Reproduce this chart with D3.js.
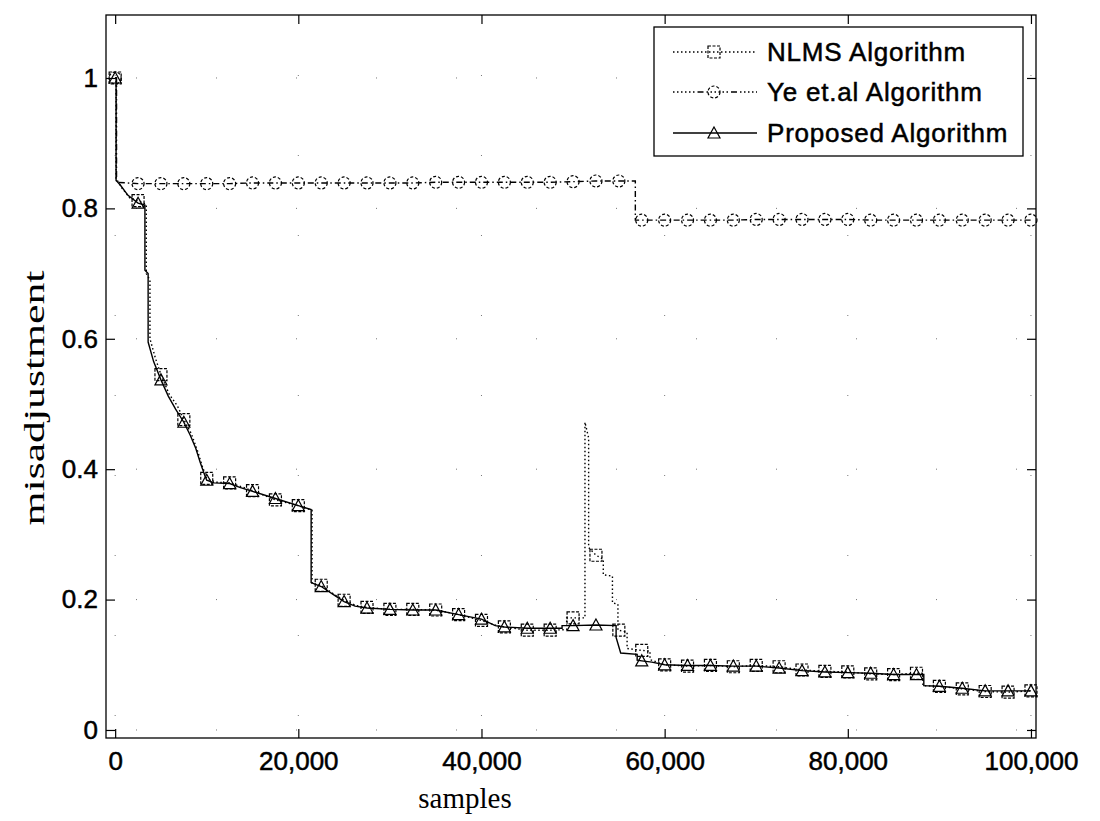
<!DOCTYPE html>
<html>
<head>
<meta charset="utf-8">
<script src="https://cdn.jsdelivr.net/npm/d3@7/dist/d3.min.js"></script>
<style>
  html, body { margin: 0; padding: 0; background: #fff; }
  svg { display: block; }
</style>
</head>
<body>
<svg id="chart" width="1100" height="821"></svg>
<script>
// Misadjustment curves of three adaptive filtering algorithms versus samples.

const xTicks = [0, 20000, 40000, 60000, 80000, 100000];
const yTicks = [0, 0.2, 0.4, 0.6, 0.8, 1];

const seriesNames = ["NLMS Algorithm", "Ye et.al Algorithm", "Proposed Algorithm"];

// NLMS algorithm
const nlmsSamples = [0, 100, 100, 700, 1600, 2500, 3400, 3400, 3800, 3800, 4400, 5000, 5900, 6800, 7500, 8300, 9000, 9500, 10000, 11000,
  12500, 13800, 15000, 17500, 20000, 21500, 21500, 22500, 24000, 25000, 26300, 27500, 30000, 32500, 35000, 37500, 40000, 41700, 42500, 45000,
  47500, 49300, 49300, 50000, 51300, 51300, 51700, 51700, 52500, 53300, 53300, 54300, 54300, 54900, 54900, 55000, 55900, 55900, 57500, 58400,
  58400, 60000, 62500, 65000, 67500, 70000, 72500, 75000, 77500, 80000, 82500, 85000, 87500, 88200, 88200, 90000, 92500, 95000, 97500, 100000];
const nlmsValues = [1.000, 1.000, 0.846, 0.832, 0.816, 0.812, 0.806, 0.700, 0.690, 0.600, 0.570, 0.545, 0.515, 0.497, 0.476, 0.455, 0.428, 0.405, 0.386, 0.380,
  0.379, 0.373, 0.367, 0.353, 0.344, 0.337, 0.225, 0.222, 0.207, 0.199, 0.191, 0.188, 0.185, 0.185, 0.184, 0.177, 0.168, 0.160, 0.158, 0.153,
  0.153, 0.154, 0.172, 0.172, 0.172, 0.472, 0.448, 0.280, 0.268, 0.262, 0.238, 0.236, 0.195, 0.193, 0.153, 0.153, 0.150, 0.125, 0.122, 0.121,
  0.108, 0.100, 0.098, 0.099, 0.097, 0.099, 0.097, 0.092, 0.090, 0.089, 0.086, 0.085, 0.087, 0.087, 0.068, 0.067, 0.063, 0.059, 0.058, 0.060];

// Ye et al. algorithm
const yeSamples = [0, 150, 150, 2500, 5000, 7500, 10000, 12500, 15000, 17500, 20000, 22500, 25000, 27500, 30000, 32500, 35000, 37500, 40000,
  42500, 45000, 47500, 50000, 52500, 55000, 56800, 56800, 57500, 60000, 62500, 65000, 67500, 70000, 72500, 75000, 77500, 80000, 82500,
  85000, 87500, 90000, 92500, 95000, 97500, 100000];
const yeValues = [1.000, 1.000, 0.840, 0.838, 0.838, 0.838, 0.838, 0.838, 0.839, 0.839, 0.839, 0.839, 0.839, 0.839, 0.839, 0.839, 0.840, 0.840, 0.840,
  0.840, 0.840, 0.840, 0.841, 0.842, 0.842, 0.842, 0.782, 0.782, 0.782, 0.782, 0.782, 0.782, 0.783, 0.783, 0.783, 0.783, 0.783, 0.782,
  0.782, 0.782, 0.782, 0.782, 0.782, 0.782, 0.782];

// Proposed algorithm
const propSamples = [0, 100, 100, 600, 1400, 2500, 3250, 3250, 3600, 3600, 4200, 5000, 5800, 6600, 7500, 8200, 8800, 9300, 9800, 10000,
  10800, 12500, 13600, 15000, 17500, 20000, 21400, 21400, 22500, 24000, 25000, 26200, 27500, 30000, 32500, 35000, 37500, 40000, 41500, 42500,
  45000, 47500, 48800, 48800, 50000, 52500, 54700, 54700, 55200, 57000, 57000, 57500, 58600, 60000, 62500, 65000, 67500, 70000, 72500, 75000,
  77500, 80000, 82500, 85000, 87500, 88300, 88300, 90000, 92500, 95000, 97500, 100000];
const propValues = [1.000, 1.000, 0.843, 0.835, 0.820, 0.808, 0.805, 0.705, 0.700, 0.595, 0.565, 0.537, 0.512, 0.492, 0.472, 0.452, 0.432, 0.410, 0.390, 0.383,
  0.379, 0.378, 0.372, 0.366, 0.355, 0.344, 0.338, 0.226, 0.220, 0.206, 0.197, 0.190, 0.187, 0.185, 0.184, 0.184, 0.177, 0.170, 0.160, 0.158,
  0.156, 0.156, 0.156, 0.160, 0.160, 0.161, 0.160, 0.142, 0.118, 0.116, 0.107, 0.106, 0.104, 0.100, 0.099, 0.099, 0.098, 0.098, 0.095, 0.091,
  0.089, 0.088, 0.087, 0.085, 0.085, 0.085, 0.068, 0.067, 0.064, 0.060, 0.060, 0.060];

const markerStep = 2500;

const svg = d3.select("#chart");
const W = 1100, H = 821;
const box = { left: 106, right: 1036, top: 15, bottom: 738 };

svg.append("rect").attr("width", W).attr("height", H).attr("fill", "#fff");

const x = d3.scaleLinear().domain([-1000, 100550]).range([box.left, box.right]);
const y = d3.scaleLinear().domain([-0.0123, 1.0966]).range([box.bottom, box.top]);

const tickFont = "'Liberation Sans', Arial, sans-serif";
const titleFont = "'Liberation Serif', 'Times New Roman', serif";

// Sparse dotted grid
const grid = svg.append("g").attr("stroke", "#777").attr("stroke-width", 1)
  .attr("stroke-dasharray", "1,79").attr("fill", "none");
xTicks.forEach(t => grid.append("line")
  .attr("x1", x(t)).attr("x2", x(t)).attr("y1", box.top + 60).attr("y2", box.bottom));
yTicks.forEach(t => grid.append("line")
  .attr("x1", box.left + 30).attr("x2", box.right).attr("y1", y(t)).attr("y2", y(t)));

// Axes: ticks point inward, on all four sides
const tickLen = 9;
const axBottom = d3.axisBottom(x).tickValues(xTicks).tickSize(-tickLen).tickPadding(14).tickFormat(d3.format(","));
const axTop = d3.axisTop(x).tickValues(xTicks).tickSize(-tickLen).tickFormat("");
const axLeft = d3.axisLeft(y).tickValues(yTicks).tickSize(-tickLen).tickPadding(8).tickFormat(d => d3.format("")(d));
const axRight = d3.axisRight(y).tickValues(yTicks).tickSize(-tickLen).tickFormat("");

function styleAxis(g) {
  g.select(".domain").remove();
  g.selectAll(".tick line").attr("stroke", "#000").attr("stroke-width", 1.2);
  g.selectAll(".tick text").attr("fill", "#000").attr("stroke", "#000").attr("stroke-width", 0.5)
    .style("font-family", tickFont).style("font-size", "26px");
}
svg.append("g").attr("transform", `translate(0,${box.bottom})`).call(axBottom).call(styleAxis);
svg.append("g").attr("transform", `translate(0,${box.top})`).call(axTop).call(styleAxis);
svg.append("g").attr("transform", `translate(${box.left},0)`).call(axLeft).call(styleAxis);
svg.append("g").attr("transform", `translate(${box.right},0)`).call(axRight).call(styleAxis);

svg.append("rect")
  .attr("x", box.left).attr("y", box.top)
  .attr("width", box.right - box.left).attr("height", box.bottom - box.top)
  .attr("fill", "none").attr("stroke", "#000").attr("stroke-width", 1.3);

// Axis titles
svg.append("text")
  .attr("x", 465).attr("y", 808)
  .attr("text-anchor", "middle")
  .style("font-family", titleFont).style("font-size", "29px")
  .text("samples");
svg.append("text")
  .attr("transform", "translate(44,398) rotate(-90)")
  .attr("text-anchor", "middle")
  .attr("textLength", 255).attr("lengthAdjust", "spacingAndGlyphs")
  .style("font-family", titleFont).style("font-size", "30px")
  .text("misadjustment");

// Series
const toPoints = (s, v) => s.map((d, i) => [d, v[i]]);
const series = [
  { name: seriesNames[0], pts: toPoints(nlmsSamples, nlmsValues), dash: "1.5,2.5", marker: "square" },
  { name: seriesNames[1], pts: toPoints(yeSamples, yeValues), dash: "6,3,1.5,3", marker: "circle" },
  { name: seriesNames[2], pts: toPoints(propSamples, propValues), dash: null, marker: "triangle" }
];

const line = d3.line().x(d => x(d[0])).y(d => y(d[1]));
const plot = svg.append("g");

function drawMarker(g, type, cx, cy) {
  if (type === "square") {
    g.append("rect").attr("x", cx - 6).attr("y", cy - 6).attr("width", 12).attr("height", 12)
      .attr("fill", "none").attr("stroke", "#000").attr("stroke-width", 1.2).attr("stroke-dasharray", "3,1.5");
  } else if (type === "circle") {
    g.append("circle").attr("cx", cx).attr("cy", cy).attr("r", 6)
      .attr("fill", "none").attr("stroke", "#000").attr("stroke-width", 1.2).attr("stroke-dasharray", "3,2");
  } else {
    g.append("path")
      .attr("d", `M${cx},${cy - 6}L${cx + 6},${cy + 5}L${cx - 6},${cy + 5}Z`)
      .attr("fill", "none").attr("stroke", "#000").attr("stroke-width", 1.2);
  }
}

series.forEach(s => {
  plot.append("path").datum(s.pts)
    .attr("d", line)
    .attr("fill", "none").attr("stroke", "#000").attr("stroke-width", 1.4)
    .attr("stroke-dasharray", s.dash);
  const seen = new Set();
  s.pts.forEach(p => {
    if (p[0] % markerStep === 0 && !seen.has(p[0])) {
      seen.add(p[0]);
      drawMarker(plot, s.marker, x(p[0]), y(p[1]));
    }
  });
});

// Legend
const lg = { x: 654, y: 27, w: 369, h: 129 };
svg.append("rect").attr("x", lg.x).attr("y", lg.y).attr("width", lg.w).attr("height", lg.h)
  .attr("fill", "#fff").attr("stroke", "#000").attr("stroke-width", 1.3);
const rowY = [52, 92, 133];
const legendDash = ["1.5,2.5", "1.5,2.5,1.5,2.5,1.5,2.5,1.5,2.5,1.5,2.5,1.5,3,6,3", null];
series.forEach((s, i) => {
  const g = svg.append("g");
  g.append("line").attr("x1", 673).attr("x2", 757).attr("y1", rowY[i]).attr("y2", rowY[i])
    .attr("stroke", "#000").attr("stroke-width", 1.3).attr("stroke-dasharray", legendDash[i]);
  drawMarker(g, s.marker, 714, rowY[i]);
  g.append("text").attr("x", 767).attr("y", rowY[i] + 9)
    .attr("stroke", "#000").attr("stroke-width", 0.5)
    .style("font-family", tickFont).style("font-size", "26px").style("letter-spacing", "0.8px")
    .text(s.name);
});
</script>
</body>
</html>
